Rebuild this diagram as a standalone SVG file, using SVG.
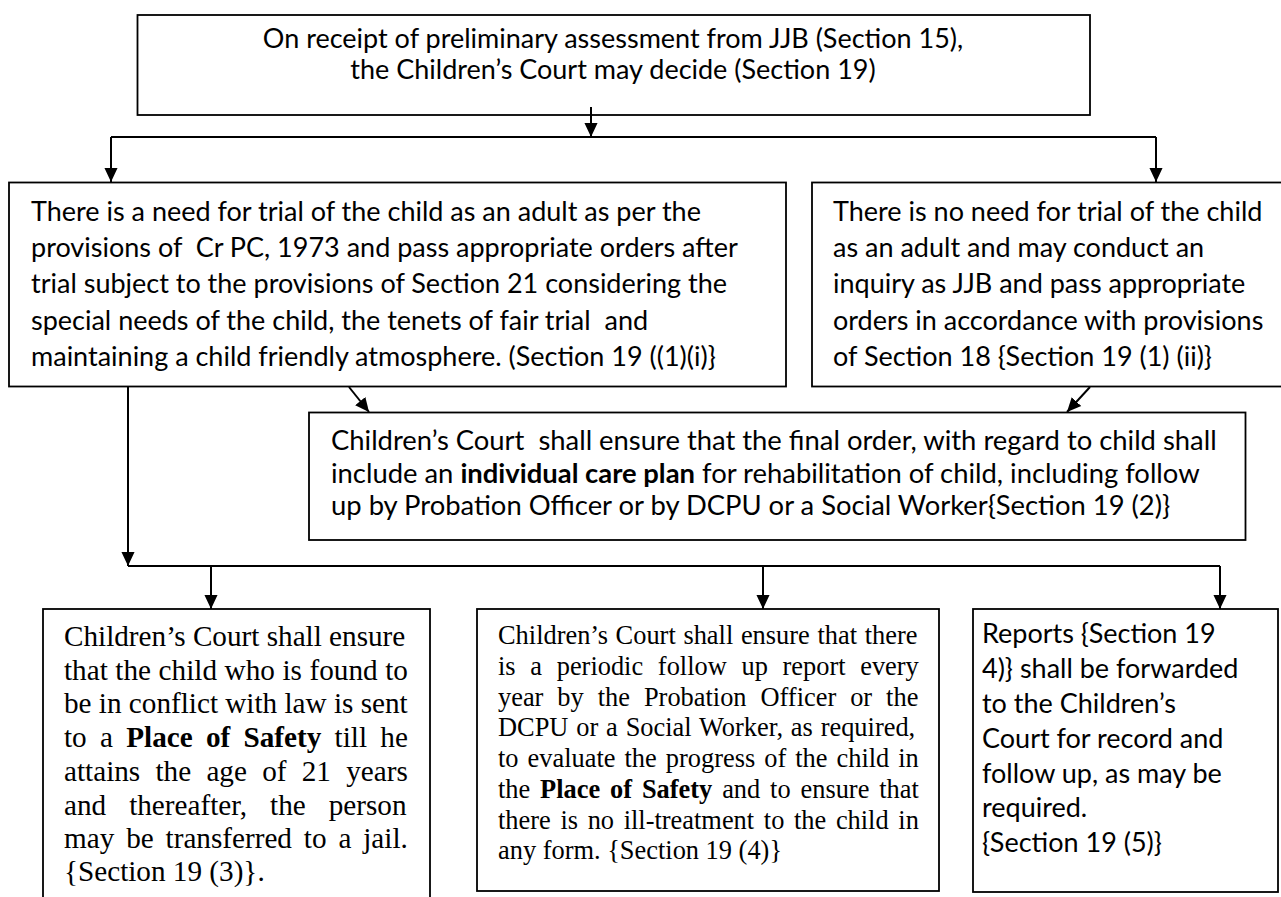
<svg xmlns="http://www.w3.org/2000/svg" width="1281" height="897" viewBox="0 0 1281 897">
<style>
.box{fill:#fff;stroke:#000;stroke-width:1.8}
.c{fill:none;stroke:#000;stroke-width:2}
.s{font-family:Lato,"Liberation Sans",sans-serif;font-size:27px;fill:#000;white-space:pre}
.m{font-size:27.4px}
.t{font-family:"Liberation Serif","Times New Roman",serif;fill:#000}
.b{font-weight:bold}
</style>
<defs>
<marker id="ah" markerUnits="userSpaceOnUse" markerWidth="14" markerHeight="15" viewBox="0 0 15 14" refX="15" refY="7" orient="auto">
<path d="M0,0 L15,7 L0,14 z" fill="#000"/>
</marker>
</defs>
<rect width="1281" height="897" fill="#fff"/>

<g id="n-top">
<rect class="box" x="137.5" y="15" width="952.5" height="100"/>
<text class="s" x="613" y="48" text-anchor="middle">On receipt of preliminary assessment from JJB (Section 15),</text>
<text class="s" x="613" y="79" text-anchor="middle">the Children’s Court may decide (Section 19)</text>
</g>

<g id="n-adult">
<rect class="box" x="9" y="182.5" width="777" height="204"/>
<text class="s" x="31" y="221">There is a need for trial of the child as an adult as per the</text>
<text class="s" x="31" y="257" xml:space="preserve">provisions of  Cr PC, 1973 and pass appropriate orders after</text>
<text class="s" x="31" y="293">trial subject to the provisions of Section 21 considering the</text>
<text class="s" x="31" y="330" xml:space="preserve">special needs of the child, the tenets of fair trial  and</text>
<text class="s" x="31" y="366">maintaining a child friendly atmosphere. (Section 19 ((1)(i)}</text>
</g>

<g id="n-noadult">
<rect class="box" x="812" y="182.5" width="475" height="204"/>
<text class="s" x="833" y="221">There is no need for trial of the child</text>
<text class="s" x="833" y="257">as an adult and may conduct an</text>
<text class="s" x="833" y="293">inquiry as JJB and pass appropriate</text>
<text class="s" x="833" y="330">orders in accordance with provisions</text>
<text class="s" x="833" y="366">of Section 18 {Section 19 (1) (ii)}</text>
</g>

<g id="n-careplan">
<rect class="box" x="309" y="412.5" width="936.5" height="127.5"/>
<text class="s m" x="331" y="450" xml:space="preserve">Children’s Court  shall ensure that the final order, with regard to child shall</text>
<text class="s m" x="331" y="482.5">include an <tspan class="b">individual care plan</tspan> for rehabilitation of child, including follow</text>
<text class="s m" x="331" y="515">up by Probation Officer or by DCPU or a Social Worker{Section 19 (2)}</text>
</g>

<g id="n-safety">
<rect class="box" x="43" y="609" width="387" height="300"/>
<g class="t" font-size="29.2">
<text x="64" y="646">Children’s Court shall ensure</text>
<text x="64" y="679.7" word-spacing="0.3">that the child who is found to</text>
<text x="64" y="713.3">be in conflict with law is sent</text>
<text x="64" y="747" word-spacing="5.97">to a <tspan class="b">Place of Safety</tspan> till he</text>
<text x="64" y="781" word-spacing="7.98">attains the age of 21 years</text>
<text x="64" y="814.7" word-spacing="15.7">and thereafter, the person</text>
<text x="64" y="848" word-spacing="4.58">may be transferred to a jail.</text>
<text x="64" y="881.3">{Section 19 (3)}.</text>
</g>
</g>

<g id="n-followup">
<rect class="box" x="477" y="609" width="462" height="282"/>
<g class="t" font-size="26.4">
<text x="498" y="644" word-spacing="1.06">Children’s Court shall ensure that there</text>
<text x="498" y="674.8" word-spacing="8.09">is a periodic follow up report every</text>
<text x="498" y="705.5" word-spacing="7.36">year by the Probation Officer or the</text>
<text x="498" y="736.3" word-spacing="1.25">DCPU or a Social Worker, as required,</text>
<text x="498" y="767" word-spacing="2.43">to evaluate the progress of the child in</text>
<text x="498" y="797.9" word-spacing="3.27">the <tspan class="b">Place of Safety</tspan> and to ensure that</text>
<text x="498" y="828.7" word-spacing="3.06">there is no ill-treatment to the child in</text>
<text x="498" y="859.3">any form. {Section 19 (4)}</text>
</g>
</g>

<g id="n-reports">
<rect class="box" x="973" y="609" width="305" height="283"/>
<text class="s" x="982" y="643">Reports {Section 19</text>
<text class="s" x="982" y="678">4)} shall be forwarded</text>
<text class="s" x="982" y="713">to the Children’s</text>
<text class="s" x="982" y="748">Court for record and</text>
<text class="s" x="982" y="783">follow up, as may be</text>
<text class="s" x="982" y="817">required.</text>
<text class="s" x="982" y="852">{Section 19 (5)}</text>
</g>

<g id="connectors">
<path class="c" d="M591,107 V137" marker-end="url(#ah)"/>
<path class="c" d="M111,137 H1156"/>
<path class="c" d="M111,137 V182" marker-end="url(#ah)"/>
<path class="c" d="M1156,137 V182" marker-end="url(#ah)"/>
<path class="c" d="M349,387 L369,412" marker-end="url(#ah)"/>
<path class="c" d="M1090,387 L1067,412" marker-end="url(#ah)"/>
<path class="c" d="M128,387 V566" marker-end="url(#ah)"/>
<path class="c" d="M128,566 H1220"/>
<path class="c" d="M211,566 V609" marker-end="url(#ah)"/>
<path class="c" d="M763,566 V609" marker-end="url(#ah)"/>
<path class="c" d="M1220,566 V609" marker-end="url(#ah)"/>
</g>
</svg>
